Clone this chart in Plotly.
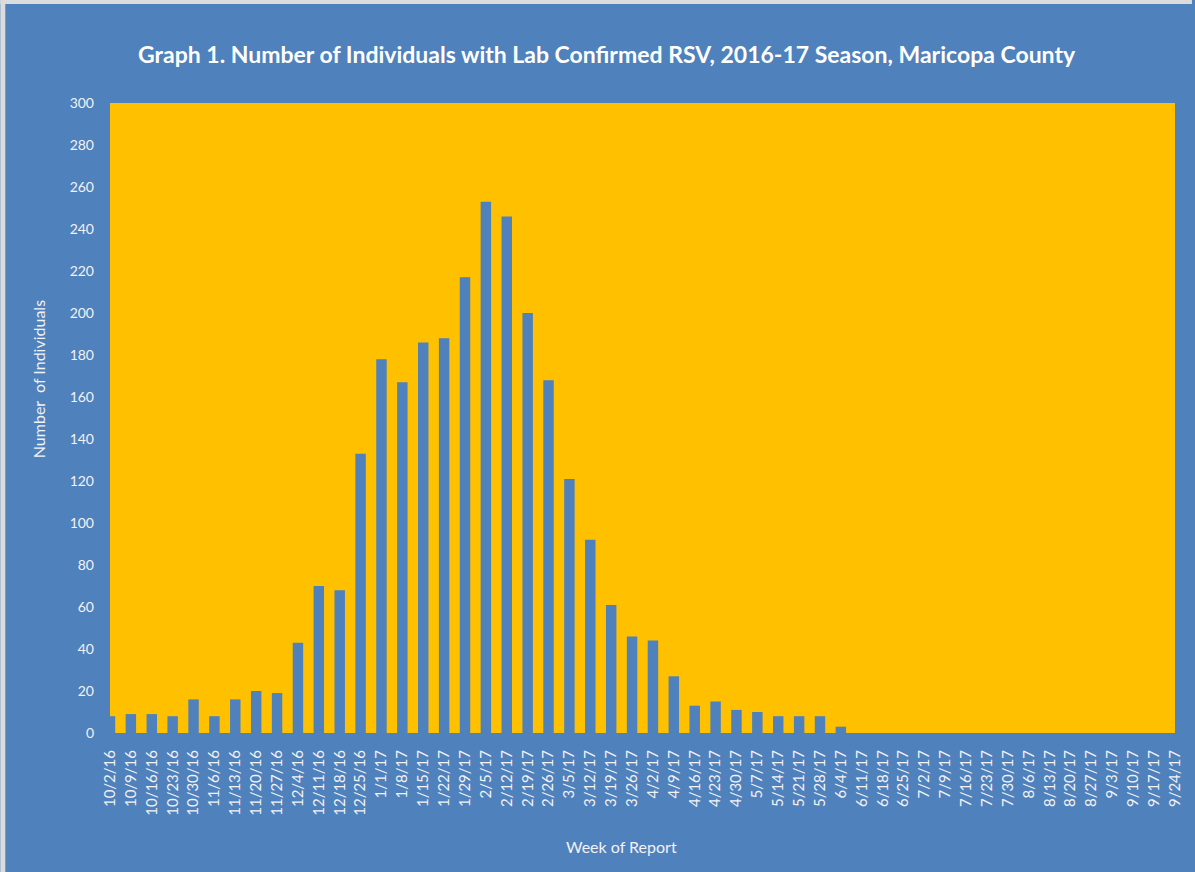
import plotly.graph_objects as go

weeks = ["10/2/16", "10/9/16", "10/16/16", "10/23/16", "10/30/16", "11/6/16", "11/13/16",
         "11/20/16", "11/27/16", "12/4/16", "12/11/16", "12/18/16", "12/25/16", "1/1/17",
         "1/8/17", "1/15/17", "1/22/17", "1/29/17", "2/5/17", "2/12/17", "2/19/17", "2/26/17",
         "3/5/17", "3/12/17", "3/19/17", "3/26/17", "4/2/17", "4/9/17", "4/16/17", "4/23/17",
         "4/30/17", "5/7/17", "5/14/17", "5/21/17", "5/28/17", "6/4/17", "6/11/17", "6/18/17",
         "6/25/17", "7/2/17", "7/9/17", "7/16/17", "7/23/17", "7/30/17", "8/6/17", "8/13/17",
         "8/20/17", "8/27/17", "9/3/17", "9/10/17", "9/17/17", "9/24/17"]

cases = [8, 9, 9, 8, 16, 8, 16, 20, 19, 43, 70, 68, 133, 178,
         167, 186, 188, 217, 253, 246, 200, 168, 121, 92, 61, 46,
         44, 27, 13, 15, 11, 10, 8, 8, 8, 3, 0, 0, 0, 0,
         0, 0, 0, 0, 0, 0, 0, 0, 0, 0, 0, 0]

y_ticks = list(range(0, 301, 20))

BLUE = "#4F81BD"
GOLD = "#FFC000"
TXT = "#F2F2F2"
FONT = "Lato"

fig = go.Figure()
fig.add_trace(go.Bar(
    x=list(range(len(weeks))), y=cases,
    marker=dict(color=BLUE, line=dict(width=0)),
    width=0.5,
))

W, H = 1195, 872
L, R, T, B = 110, 17, 103, 139
pw, ph = W - L - R, H - T - B

def px_x(x):
    return (x - L) / pw

def px_y(y):
    return (H - B - y) / ph

fig.update_layout(
    width=W, height=H,
    margin=dict(l=L, r=R, t=T, b=B, pad=0),
    paper_bgcolor=BLUE,
    plot_bgcolor=GOLD,
    showlegend=False,
    font=dict(family=FONT, color=TXT, size=14),
    title=dict(
        text="<b>Graph 1. Number of Individuals with Lab Confirmed RSV, 2016-17 Season, Maricopa County</b>",
        x=px_x(608), xref="paper", xanchor="center",
        y=1 - 55 / H, yref="container", yanchor="middle",
        font=dict(family=FONT, size=23, color="#FFFFFF"),
    ),
    xaxis=dict(
        range=[0, len(weeks) - 1],
        tickmode="array",
        tickvals=list(range(len(weeks))),
        ticktext=weeks,
        tickangle=-90,
        showgrid=False, zeroline=False, showline=False,
        ticks="", ticklabelstandoff=13,
        tickfont=dict(family=FONT, size=15, color=TXT),
    ),
    yaxis=dict(
        range=[0, 300],
        tickmode="array",
        tickvals=y_ticks,
        ticktext=[str(v) for v in y_ticks],
        showgrid=False, zeroline=False, showline=False,
        ticks="", ticklabelstandoff=15,
        tickfont=dict(family=FONT, size=14, color=TXT),
    ),
    annotations=[
        dict(text="Number  of Individuals", textangle=-90,
             x=px_x(38), y=px_y(379), xref="paper", yref="paper",
             xanchor="center", yanchor="middle", showarrow=False,
             font=dict(family=FONT, size=16, color=TXT)),
        dict(text="Week of Report",
             x=px_x(623), y=px_y(846), xref="paper", yref="paper",
             xanchor="center", yanchor="middle", showarrow=False,
             font=dict(family=FONT, size=16, color=TXT)),
    ],
    shapes=[
        dict(type="rect", xref="paper", yref="paper",
             x0=px_x(0), x1=px_x(5), y0=px_y(H), y1=px_y(0),
             fillcolor="#DCDCDC", line=dict(width=0), layer="above"),
        dict(type="rect", xref="paper", yref="paper",
             x0=px_x(0), x1=px_x(W), y0=px_y(4), y1=px_y(0),
             fillcolor="#DCDCDC", line=dict(width=0), layer="above"),
    ],
)

fig.write_html(
    "out.html",
    config={"displayModeBar": False},
    post_script="document.body.style.margin='0';document.body.style.padding='0';"
                "document.body.style.background='#4F81BD';"
                "document.documentElement.style.background='#4F81BD';"
                "document.documentElement.style.overflow='hidden';",
)
